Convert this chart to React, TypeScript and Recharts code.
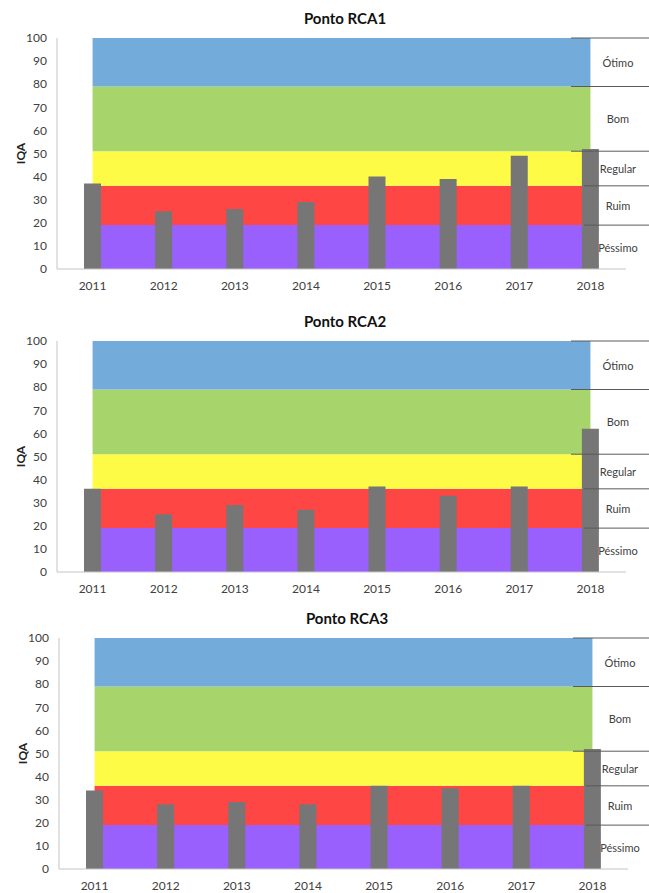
import { ComposedChart, Area, Bar, XAxis, YAxis, ReferenceLine } from "recharts";

// categories and measured IQA per monitoring point
const years = ["2011", "2012", "2013", "2014", "2015", "2016", "2017", "2018"];
const rca1 = [37, 25, 26, 29, 40, 39, 49, 52];
const rca2 = [36, 25, 29, 27, 37, 33, 37, 62];
const rca3 = [34, 28, 29, 28, 36, 35, 36, 52];

// IQA quality classes (lower/upper limits)
const bandNames = ["Péssimo", "Ruim", "Regular", "Bom", "Ótimo"];
const bandLimits = [0, 19, 36, 51, 79, 100];
const bandColors = ["#9960fe", "#fe4745", "#fdfb45", "#a8d46c", "#73acdb"];
const yTicks = [0, 10, 20, 30, 40, 50, 60, 70, 80, 90, 100];

const panels = [
  { title: "Ponto RCA1", values: rca1, top: 0, left: 0 },
  { title: "Ponto RCA2", values: rca2, top: 303, left: 0 },
  { title: "Ponto RCA3", values: rca3, top: 600, left: 2 },
];

const FONT = "Lato, 'Open Sans', sans-serif";
const AXIS = "#c4c4c4";
const TEXT = "#404040";

function buildRows(values: number[]) {
  return years.map((year, i) => {
    const row: any = { year, iqa: values[i] };
    bandNames.forEach((_, b) => {
      row["b" + b] = bandLimits[b + 1] - bandLimits[b];
    });
    return row;
  });
}

const boundaryShape = (back: number) => (p: any) => (
  <line x1={p.x2 - back} x2={p.x2 + 23} y1={p.y1} y2={p.y1} stroke="#5a5a5a" strokeWidth={1} />
);

const bandLabelShape = (name: string) => (p: any) => (
  <text x={p.x2 - 8} y={p.y1} textAnchor="middle" dominantBaseline="central" fontSize={11} fill={TEXT} fontFamily={FONT}>
    {name}
  </text>
);

function IqaLabel(props: any) {
  const vb = props.viewBox || { x: 0, y: 38, width: 57, height: 231 };
  const cx = vb.x + 20;
  const cy = vb.y + vb.height / 2;
  return (
    <text x={cx} y={cy} transform={`rotate(-90 ${cx} ${cy})`} textAnchor="middle" dominantBaseline="central" fontSize={12} fontWeight="bold" fill="#222" fontFamily={FONT}>
      IQA
    </text>
  );
}

function Panel({ title, values, top, left }) {
  const rows = buildRows(values);
  return (
    <div style={{ position: "absolute", top, left, width: 649, height: 300 }}>
      <div
        style={{
          position: "absolute", top: 9, left: 0, width: 690, textAlign: "center",
          fontFamily: FONT, fontWeight: "bold", fontSize: 15, color: "#111",
        }}
      >
        {title}
      </div>
      <ComposedChart width={649} height={300} data={rows} margin={{ top: 38, right: 23, bottom: 6, left: 0 }}>
        <XAxis
          dataKey="year"
          tick={{ fontSize: 12, fill: TEXT, fontFamily: FONT }}
          tickLine={false}
          tickMargin={6}
          axisLine={{ stroke: AXIS }}
          height={25}
        />
        <YAxis
          domain={[0, 100]}
          ticks={yTicks}
          width={57}
          tick={{ fontSize: 12, fill: TEXT, fontFamily: FONT }}
          tickLine={false}
          tickMargin={4}
          axisLine={{ stroke: AXIS }}
          label={{ content: IqaLabel }}
        />
        {bandNames.map((name, b) => (
          <Area
            key={name}
            type="linear"
            dataKey={"b" + b}
            stackId="bands"
            stroke="none"
            fill={bandColors[b]}
            fillOpacity={1}
            dot={false}
            activeDot={false}
            isAnimationActive={false}
          />
        ))}
        <Bar dataKey="iqa" fill="#767676" barSize={17} isAnimationActive={false} />
        {bandLimits.slice(1).map((v) => (
          <ReferenceLine key={"l" + v} y={v} ifOverflow="visible" shape={boundaryShape(v > 40 ? 55 : 42)} />
        ))}
        {bandNames.map((name, b) => (
          <ReferenceLine
            key={"t" + name}
            y={(bandLimits[b] + bandLimits[b + 1]) / 2}
            ifOverflow="visible"
            shape={bandLabelShape(name)}
          />
        ))}
      </ComposedChart>
    </div>
  );
}

export default function App() {
  return (
    <div style={{ position: "absolute", top: 0, left: 0, width: 649, height: 893, background: "#fff" }}>
      {panels.map((p) => (
        <Panel key={p.title} {...p} />
      ))}
    </div>
  );
}
